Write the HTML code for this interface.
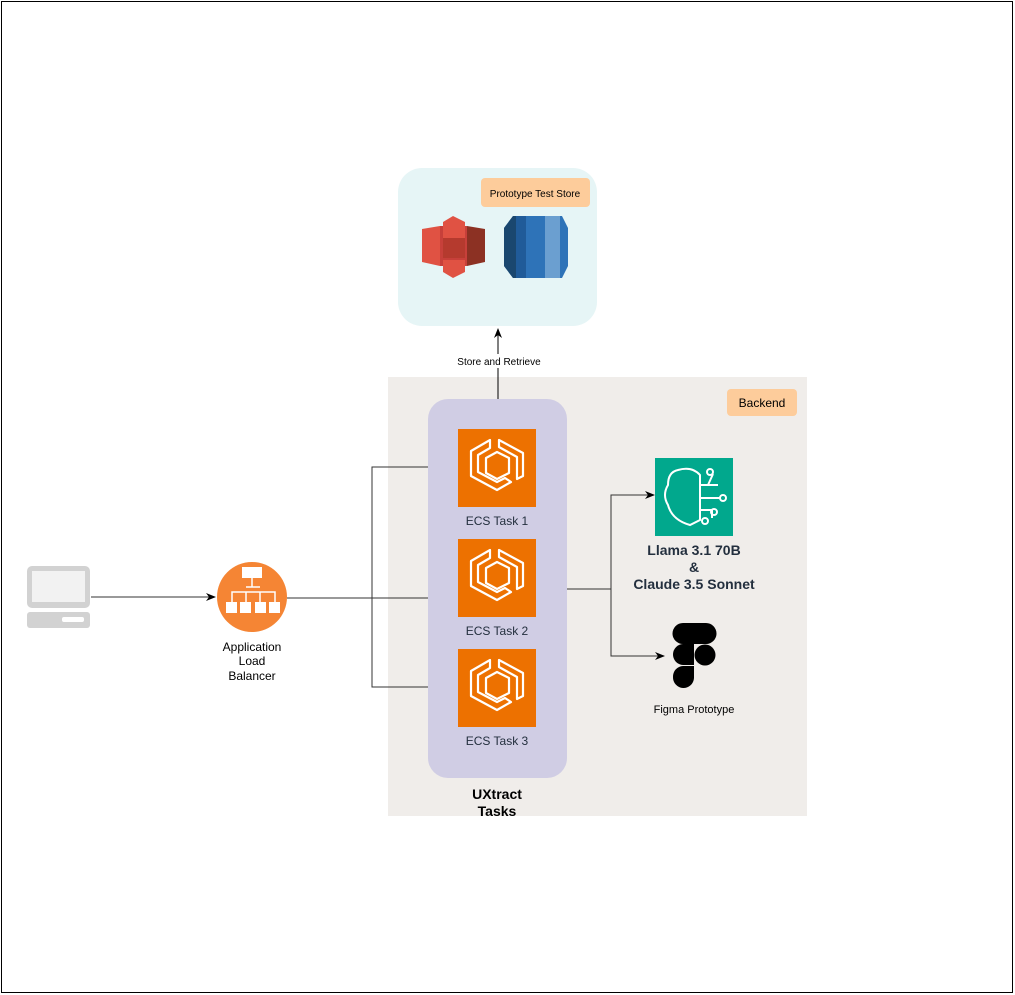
<!DOCTYPE html>
<html><head><style>body{margin:0;background:#fff}svg{display:block;font-family:"Liberation Sans",Arial,sans-serif}</style></head><body>
<svg width="1015" height="995" viewBox="0 0 1015 995" xmlns="http://www.w3.org/2000/svg">
<defs><marker id="a" markerWidth="10" markerHeight="10" refX="9" refY="5" orient="auto" markerUnits="userSpaceOnUse"><path d="M0,1 L10,5 L0,9 L3,5 Z" fill="#000"/></marker></defs>
<rect x="1.5" y="1.5" width="1011" height="991" fill="#fff" stroke="#000"/>
<rect x="388" y="377" width="419" height="439" fill="#f0edea"/>
<rect x="727" y="389" width="70" height="27" rx="4" fill="#fdcc9b"/>
<text x="762" y="407" font-size="12" text-anchor="middle" fill="#000">Backend</text>
<rect x="398" y="168" width="199" height="158" rx="24" fill="#e6f5f6"/>
<rect x="481" y="178" width="109" height="29" rx="4" fill="#fdcc9b"/>
<text x="535" y="197" font-size="10" text-anchor="middle">Prototype Test Store</text>
<!-- S3 -->
<g>
<polygon points="422,229 440,226 440,266 422,262" fill="#e05243"/>
<polygon points="467,226 485,229 485,262 467,266" fill="#8c3123"/>
<rect x="440" y="226" width="27" height="40" fill="#c7403a"/>
<polygon points="443,222 453,216 465,222 465,243 443,243" fill="#e05243"/>
<polygon points="443,260 465,260 465,272 453,278 443,272" fill="#e05243"/>
<rect x="443" y="238" width="22" height="20" fill="#b53a2e"/>
</g>
<!-- RDS -->
<g>
<polygon points="513,216 562,216 568,228 568,266 562,278 513,278 504,266 504,228" fill="#2e73b8"/>
<polygon points="513,216 526,216 526,278 513,278 504,266 504,228" fill="#1a476f"/>
<rect x="516" y="216" width="10" height="62" fill="#205b99"/>
<rect x="545" y="216" width="15" height="62" fill="#6b9fd0"/>
</g>
<!-- store arrow -->
<line x1="498" y1="399" x2="498" y2="329" stroke="#000" marker-end="url(#a)"/>
<rect x="450" y="354" width="96" height="14" fill="#fff"/>
<text x="499" y="365" font-size="10" text-anchor="middle">Store and Retrieve</text>
<!-- group -->
<rect x="428" y="399" width="139" height="379" rx="20" fill="#d0cde4"/>
<g id="ecs">
<rect x="458" y="429" width="78" height="78" fill="#ed7100"/>
<g fill="none" stroke="#fff" stroke-width="2.2" stroke-linejoin="round">
<path d="M490,440 L471,451 L471,476 L497,490 L511,482 L505,478 L497,482 L478,472 L478,455 L490,448 Z"/>
<path d="M499,440 L523,453 L523,476 L517,479 L517,457 L499,447 Z"/>
<path d="M486,458 L497,452 L509,458 L509,473 L497,479 L486,473 Z"/>
</g>
</g>
<use href="#ecs" y="110"/><use href="#ecs" y="220"/>
<g font-size="12" fill="#232f3e" text-anchor="middle">
<text x="497" y="525">ECS Task 1</text><text x="497" y="635">ECS Task 2</text><text x="497" y="745">ECS Task 3</text>
</g>
<text x="497" y="799" font-size="14" font-weight="bold" text-anchor="middle">UXtract</text>
<text x="497" y="816" font-size="14" font-weight="bold" text-anchor="middle">Tasks</text>
<!-- laptop -->
<rect x="27" y="566" width="63" height="42" rx="5" fill="#d2d2d2"/>
<rect x="32" y="571" width="53" height="31" fill="#f2f2f2"/>
<rect x="27" y="612" width="63" height="16" rx="3" fill="#d2d2d2"/>
<rect x="62" y="617" width="22" height="5" rx="2" fill="#fff"/>
<line x1="91" y1="597" x2="215" y2="597" stroke="#333" marker-end="url(#a)"/>
<!-- ALB -->
<circle cx="252" cy="597" r="35" fill="#f58534"/>
<g fill="#fff"><rect x="242" y="567" width="20" height="11"/>
<rect x="226" y="602" width="11" height="11"/><rect x="240" y="602" width="11" height="11"/><rect x="255" y="602" width="11" height="11"/><rect x="269" y="602" width="11" height="11"/></g>
<path d="M252,578 V587 M232,602 V592 H246 V602 M246,592 H260 M260,602 V592 H275 V602 M246,587 H260" stroke="#fff" stroke-width="1.5" fill="none"/>
<g font-size="12" text-anchor="middle"><text x="252" y="651">Application</text><text x="252" y="665">Load</text><text x="252" y="680">Balancer</text></g>
<g stroke="#333" fill="none">
<line x1="287" y1="598" x2="428" y2="598"/>
<path d="M428,467 H372 V687 H428"/>
<path d="M567,589 H611 V495 H654" marker-end="url(#a)"/>
<path d="M611,589 V656 H664" marker-end="url(#a)"/>
</g>
<!-- bedrock -->
<rect x="655" y="458" width="78" height="78" fill="#01a88d"/>
<g fill="none" stroke="#fff" stroke-width="2">
<path d="M678,470 Q668,472 668,485 Q662,495 668,505 Q672,520 690,525 L700,520 V475 Q692,466 678,470 Z"/>
<path d="M700,485 H718 M700,498 H720 M700,510 H712 M708,485 L713,474 M712,510 L712,518"/>
<circle cx="710" cy="472" r="3"/><circle cx="723" cy="498" r="3"/><circle cx="714" cy="512" r="3"/><circle cx="705" cy="521" r="3"/>
</g>
<g font-size="14" font-weight="bold" fill="#232f3e" text-anchor="middle">
<text x="694" y="555">Llama 3.1 70B</text><text x="694" y="572">&amp;</text><text x="694" y="589">Claude 3.5 Sonnet</text></g>
<!-- figma -->
<g fill="#000">
<path d="M683,623 H706 A10.5,10.5 0 0 1 706,644 H683 A10.5,10.5 0 0 1 683,623 Z"/>
<path d="M673,654 A10.5,10.5 0 0 1 683,644 H694 V665 H683 A10.5,10.5 0 0 1 673,654 Z"/>
<circle cx="705" cy="655" r="10.5"/>
<path d="M683,666 H694 V678 A10.5,10.5 0 0 1 673,677 A10.5,10.5 0 0 1 683,666 Z"/>
</g>
<text x="694" y="713" font-size="11" text-anchor="middle">Figma Prototype</text>
</svg>
</body></html>
